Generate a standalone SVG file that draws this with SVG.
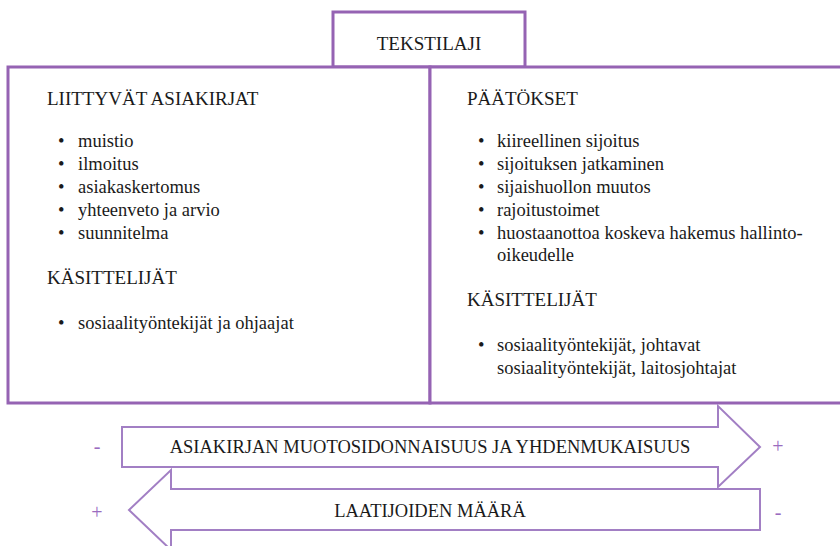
<svg xmlns="http://www.w3.org/2000/svg" width="840" height="546" viewBox="0 0 840 546" font-family="Liberation Serif, Times New Roman, serif">
<style>
.box{fill:#fff;stroke:#9563b3;stroke-width:3}
.arr{fill:#fff;stroke:#a27fc4;stroke-width:2}
</style>
<rect x="0" y="0" width="840" height="546" fill="#fff"/>
<g id="tekstilaji">
<rect class="box" x="333" y="12" width="192" height="55"/>
<text font-size="19" fill="#1a1a1a" x="429" y="50" text-anchor="middle">TEKSTILAJI</text>
</g>
<g id="liittyvat" fill="#1a1a1a" font-size="18.5">
<rect class="box" x="8" y="67" width="422" height="336"/>
<text font-size="19" x="47" y="105">LIITTYV&#196;T ASIAKIRJAT</text>
<text x="58" y="147">&#8226;</text><text x="78" y="147">muistio</text>
<text x="58" y="170">&#8226;</text><text x="78" y="170">ilmoitus</text>
<text x="58" y="193">&#8226;</text><text x="78" y="193">asiakaskertomus</text>
<text x="58" y="216">&#8226;</text><text x="78" y="216">yhteenveto ja arvio</text>
<text x="58" y="239">&#8226;</text><text x="78" y="239">suunnitelma</text>
<text font-size="19" x="47" y="284">K&#196;SITTELIJ&#196;T</text>
<text x="58" y="329">&#8226;</text><text x="78" y="329">sosiaality&#246;ntekij&#228;t ja ohjaajat</text>
</g>
<g id="paatokset" fill="#1a1a1a" font-size="18.5">
<rect class="box" x="430" y="67" width="416" height="336"/>
<text font-size="19" x="467" y="105">P&#196;&#196;T&#214;KSET</text>
<text x="478" y="147">&#8226;</text><text x="497" y="147">kiireellinen sijoitus</text>
<text x="478" y="170">&#8226;</text><text x="497" y="170">sijoituksen jatkaminen</text>
<text x="478" y="193">&#8226;</text><text x="497" y="193">sijaishuollon muutos</text>
<text x="478" y="216">&#8226;</text><text x="497" y="216">rajoitustoimet</text>
<text x="478" y="239">&#8226;</text><text x="497" y="239">huostaanottoa koskeva hakemus hallinto-</text>
<text x="497" y="261">oikeudelle</text>
<text font-size="19" x="467" y="306">K&#196;SITTELIJ&#196;T</text>
<text x="478" y="351">&#8226;</text><text x="497" y="351">sosiaality&#246;ntekij&#228;t, johtavat</text>
<text x="497" y="374">sosiaality&#246;ntekij&#228;t, laitosjohtajat</text>
</g>
<g id="arrows">
<g id="arrow-muotosidonnaisuus">
<path class="arr" d="M122,427 L718,427 L718,406 L760,447 L718,487 L718,467 L122,467 Z"/>
<text font-size="18.5" fill="#1a1a1a" x="430" y="453" text-anchor="middle">ASIAKIRJAN MUOTOSIDONNAISUUS JA YHDENMUKAISUUS</text>
<text font-size="20" fill="#9a6cbf" x="97" y="453" text-anchor="middle">-</text>
<text font-size="20" fill="#9a6cbf" x="778" y="453" text-anchor="middle">+</text>
</g>
<g id="arrow-laatijat">
<path class="arr" d="M760,489 L760,530 L171,530 L171,550 L129,510 L171,470 L171,489 Z"/>
<text font-size="18.5" fill="#1a1a1a" x="430" y="517" text-anchor="middle">LAATIJOIDEN M&#196;&#196;R&#196;</text>
<text font-size="20" fill="#9a6cbf" x="97" y="519" text-anchor="middle">+</text>
<text font-size="20" fill="#9a6cbf" x="778" y="519" text-anchor="middle">-</text>
</g>
</g>
</svg>
